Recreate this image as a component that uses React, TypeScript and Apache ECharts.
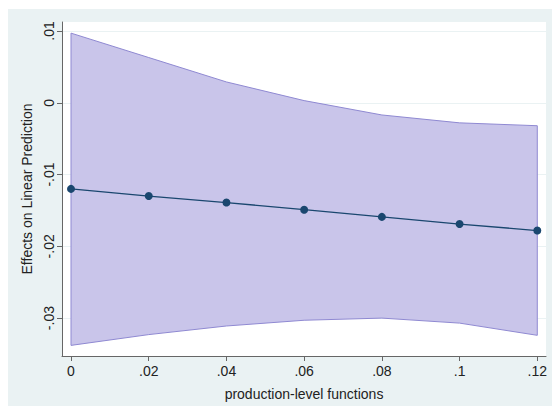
import React, { useEffect, useRef } from "react";
import * as echarts from "echarts";

const xValues = [0, 0.02, 0.04, 0.06, 0.08, 0.1, 0.12];
const effect = [-0.0120, -0.0130, -0.0139, -0.0149, -0.0159, -0.0169, -0.0178];
const upperCI = [0.0097, 0.0063, 0.0029, 0.0003, -0.0017, -0.0028, -0.0032];
const lowerCI = [-0.0338, -0.0323, -0.0311, -0.0303, -0.0300, -0.0307, -0.0324];
const xTicks = [0, 0.02, 0.04, 0.06, 0.08, 0.1, 0.12];
const yTicks = [-0.03, -0.02, -0.01, 0, 0.01];

const fmt = (v: number) => {
  const r = +(+v).toFixed(4);
  if (r === 0) return "0";
  return String(r).replace("0.", ".");
};

export default function App() {
  const ref = useRef<HTMLDivElement>(null);
  useEffect(() => {
    if (!ref.current) return;
    const chart = echarts.init(ref.current, undefined, { renderer: "svg" });
    const font = "Liberation Sans, Arial, Helvetica, sans-serif";
    const bandData = xValues.map((x, i) => [x, lowerCI[i], upperCI[i]]);
    chart.setOption({
      animation: false,
      backgroundColor: "#eaf2f3",
      textStyle: { fontFamily: font },
      grid: {
        left: 54,
        top: 13,
        right: 6,
        bottom: 50,
        show: true,
        backgroundColor: "#ffffff",
        borderWidth: 0,
      },
      xAxis: {
        type: "value",
        min: -0.00232,
        max: 0.12224,
        name: "production-level functions",
        nameLocation: "middle",
        nameGap: 31,
        nameTextStyle: { fontSize: 14, color: "#222", fontFamily: font },
        axisLine: { show: true, onZero: false, lineStyle: { color: "#666", width: 1 } },
        axisTick: { show: true, length: 5, lineStyle: { color: "#666" }, customValues: xTicks },
        axisLabel: {
          customValues: xTicks,
          formatter: (v: number) => fmt(v),
          fontSize: 14,
          color: "#222",
          margin: 8,
          fontFamily: font,
        },
        splitLine: { show: false },
      },
      yAxis: {
        type: "value",
        min: -0.03528,
        max: 0.01125,
        name: "Effects on Linear Prediction",
        nameLocation: "middle",
        nameGap: 26,
        nameTextStyle: { fontSize: 14, color: "#222", fontFamily: font },
        axisLine: { show: true, onZero: false, lineStyle: { color: "#666", width: 1 } },
        axisTick: { show: true, length: 5, lineStyle: { color: "#666" }, customValues: yTicks },
        axisLabel: {
          customValues: yTicks,
          formatter: (v: number) => fmt(v),
          rotate: 90,
          fontSize: 14,
          color: "#222",
          margin: 6,
          fontFamily: font,
        },
        splitLine: { show: true, lineStyle: { color: "#eaf2f3", width: 1 } },
      },
      series: [
        {
          type: "custom",
          data: bandData,
          encode: { x: 0, y: [1, 2] },
          clip: true,
          z: 1,
          renderItem: (params: any, api: any) => {
            if (params.dataIndex !== 0) return null;
            const top = xValues.map((x, i) => api.coord([x, upperCI[i]]));
            const bottom = xValues.map((x, i) => api.coord([x, lowerCI[i]])).reverse();
            return {
              type: "polygon",
              shape: { points: top.concat(bottom) },
              style: { fill: "#c9c5ea", stroke: "#8f89d2", lineWidth: 1 },
            };
          },
        },
        {
          type: "line",
          data: xValues.map((x, i) => [x, effect[i]]),
          z: 3,
          symbol: "circle",
          symbolSize: 8,
          showSymbol: true,
          lineStyle: { color: "#1a476f", width: 1.3 },
          itemStyle: { color: "#1a476f" },
        },
      ],
    });
    return () => chart.dispose();
  }, []);
  return (
    <div
      ref={ref}
      style={{ position: "absolute", left: 8, top: 9, width: 544, height: 397 }}
    />
  );
}
